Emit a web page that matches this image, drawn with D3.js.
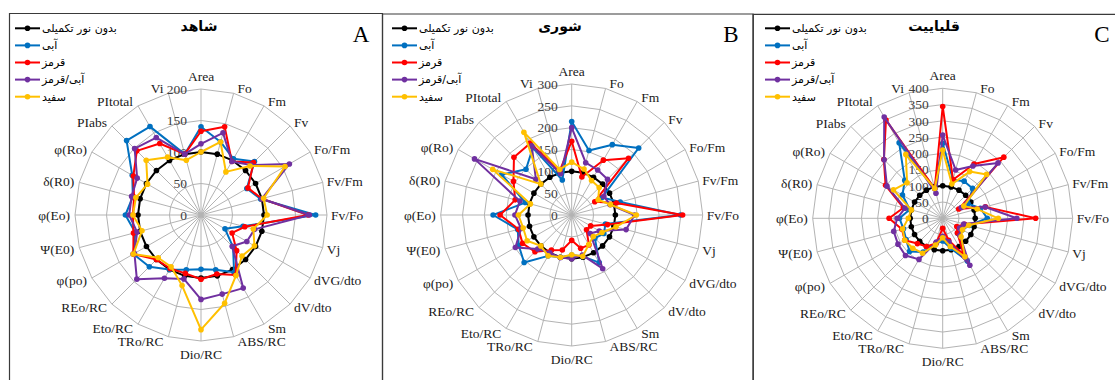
<!DOCTYPE html>
<html>
<head>
<meta charset="utf-8">
<script src="https://cdn.jsdelivr.net/npm/d3@7"></script>
<style>
  html, body { margin: 0; padding: 0; background: #fff; }
  svg { display: block; }
  .serif { font-family: "Liberation Serif", "Times New Roman", "DejaVu Serif", serif; }
  .fa { font-family: "DejaVu Sans", "Noto Sans", sans-serif; }
</style>
</head>
<body>
<div id="chart"></div>
<script>
// categories, clockwise from the top
const categories = ["Area", "Fo", "Fm", "Fv", "Fo/Fm", "Fv/Fm", "Fv/Fo", "Vj", "dVG/dto", "dV/dto", "Sm", "ABS/RC",
  "Dio/RC", "TRo/RC", "Eto/RC", "REo/RC", "φ(po)", "Ψ(E0)", "φ(Eo)", "δ(R0)", "φ(Ro)", "PIabs", "PItotal", "Vi"];

const seriesNames = ["بدون نور تکمیلی", "آبی", "قرمز", "آبی/قرمز", "سفید"];
const seriesColors = ["#000000", "#0070C0", "#FF0000", "#7030A0", "#FFC000"];

const panelTitles = ["شاهد", "شوری", "قلیاییت"];
const panelLetters = ["A", "B", "C"];
const panelMax = [200, 300, 400];
const tickStep = 50;

// A - شاهد
const controlA = [100, 100, 100, 100, 100, 100, 100, 100, 100, 100, 100, 100, 100, 100, 100, 100, 100, 100, 100, 100, 100, 100, 100, 100];
const blueA    = [140, 120, 103, 120, 84, 98, 182, 69, 44, 72, 105, 90, 86, 90, 100, 116, 124, 108, 120, 112, 126, 167, 162, 100];
const redA     = [133, 145, 98, 118, 86, 100, 170, 72, 57, 80, 110, 97, 102, 96, 98, 100, 124, 111, 108, 110, 124, 144, 131, 100];
const purpleA  = [113, 135, 98, 112, 162, 100, 172, 88, 84, 70, 134, 130, 134, 105, 116, 144, 122, 105, 114, 114, 117, 149, 142, 100];
const yellowA  = [100, 120, 79, 110, 154, 103, 105, 86, 98, 92, 111, 145, 182, 116, 95, 96, 124, 97, 108, 107, 98, 123, 106, 90];

// B - شوری
const controlB = [100, 100, 100, 100, 100, 100, 100, 100, 100, 100, 100, 100, 100, 100, 100, 100, 100, 100, 100, 100, 100, 100, 100, 100];
const blueB    = [214, 153, 186, 217, 80, 115, 249, 80, 85, 75, 126, 98, 92, 100, 108, 154, 140, 128, 180, 110, 185, 148, 178, 83];
const redB     = [169, 90, 145, 184, 61, 106, 254, 85, 50, 48, 79, 79, 58, 83, 93, 119, 130, 126, 164, 134, 154, 187, 190, 105];
const purpleB  = [200, 124, 119, 116, 85, 91, 144, 129, 73, 60, 142, 95, 100, 101, 100, 110, 149, 120, 130, 123, 257, 116, 183, 98];
const yellowB  = [121, 109, 91, 89, 70, 92, 148, 105, 80, 70, 78, 98, 91, 100, 108, 100, 118, 115, 122, 98, 209, 100, 219, 108];

// C - قلیاییت
const controlC = [100, 100, 100, 100, 100, 100, 100, 100, 100, 100, 100, 100, 100, 100, 100, 100, 100, 100, 100, 100, 100, 100, 100, 100];
const blueC    = [231, 123, 132, 130, 90, 120, 137, 85, 70, 65, 152, 95, 70, 80, 120, 144, 130, 125, 133, 105, 143, 165, 268, 95];
const redC     = [344, 123, 193, 266, 57, 136, 286, 70, 50, 64, 130, 70, 31, 80, 100, 110, 135, 130, 165, 125, 203, 256, 349, 95];
const purpleC  = [256, 154, 186, 241, 66, 135, 228, 67, 60, 75, 167, 75, 55, 76, 146, 162, 159, 156, 140, 120, 198, 255, 360, 80];
const yellowC  = [210, 109, 166, 191, 75, 110, 171, 83, 70, 80, 137, 90, 60, 85, 124, 130, 135, 128, 106, 100, 175, 155, 227, 95];

const panelSeries = [
  [controlA, blueA, redA, purpleA, yellowA],
  [controlB, blueB, redB, purpleB, yellowB],
  [controlC, blueC, redC, purpleC, yellowC]
];

const width = 1115, height = 380;

// frame and plot geometry of each panel
const panels = [
  { x0: 9.5, x1: 382.5, top: 13.5, cx: 201, cy: 215, r: 126, legendX: 15, titleX: 199, letterX: 361 },
  { x0: 382.5, x1: 753, top: 14, cx: 571.7, cy: 215, r: 131, legendX: 392, titleX: 560, letterX: 731 },
  { x0: 753.3, x1: 1120, top: 14.3, cx: 942.7, cy: 218.3, r: 130, legendX: 765, titleX: 934, letterX: 1102 }
];

const svg = d3.select("#chart").append("svg")
  .attr("width", width)
  .attr("height", height)
  .attr("viewBox", `0 0 ${width} ${height}`);

const angle = d3.scaleLinear()
  .domain([0, categories.length])
  .range([0, 2 * Math.PI]);

panels.forEach((p, pi) => {
  const g = svg.append("g");

  // frame (no bottom edge visible)
  g.append("path")
    .attr("d", `M${p.x0},${height + 2}V${p.top}H${p.x1}V${height + 2}`)
    .attr("fill", "none")
    .attr("stroke", "#3a3a3a")
    .attr("stroke-width", 1.2);

  const r = d3.scaleLinear().domain([0, panelMax[pi]]).range([0, p.r]);
  const ticks = d3.range(0, panelMax[pi] + 1, tickStep);

  const plot = g.append("g").attr("transform", `translate(${p.cx},${p.cy})`);

  // spokes
  plot.selectAll(".spoke")
    .data(categories)
    .enter()
    .append("line")
    .attr("x1", 0).attr("y1", 0)
    .attr("x2", (d, i) => r(panelMax[pi]) * Math.sin(angle(i)))
    .attr("y2", (d, i) => -r(panelMax[pi]) * Math.cos(angle(i)))
    .attr("stroke", "#b3b3b3")
    .attr("stroke-width", 1);

  // rings
  const ring = d3.lineRadial()
    .angle((d, i) => angle(i))
    .radius(d => r(d))
    .curve(d3.curveLinearClosed);

  plot.selectAll(".ring")
    .data(ticks.slice(1))
    .enter()
    .append("path")
    .attr("d", v => ring(categories.map(() => v)))
    .attr("fill", "none")
    .attr("stroke", "#b3b3b3")
    .attr("stroke-width", 1);

  // tick labels
  plot.selectAll(".tick")
    .data(ticks)
    .enter()
    .append("text")
    .attr("class", "serif")
    .attr("x", -14)
    .attr("y", v => -r(v))
    .attr("dy", "0.35em")
    .attr("text-anchor", "end")
    .attr("font-size", 13.5)
    .attr("fill", "#404040")
    .text(v => v);

  // category labels
  plot.selectAll(".cat")
    .data(categories)
    .enter()
    .append("text")
    .attr("class", "serif")
    .each(function (d, i) {
      const s = Math.sin(angle(i)), c = Math.cos(angle(i));
      const R = r(panelMax[pi]);
      let x = R * s, y = -R * c, anchor = "middle";
      if (Math.abs(s) < 0.01) {
        y -= 13 * c;
      } else {
        x += (s > 0 ? 4 : -5);
        y -= 5 * c;
        anchor = s > 0 ? "start" : "end";
      }
      d3.select(this)
        .attr("x", x).attr("y", y)
        .attr("dy", "0.35em")
        .attr("text-anchor", anchor);
    })
    .attr("font-size", 13.5)
    .attr("fill", "#1a1a1a")
    .text(d => d);

  // series
  const line = d3.lineRadial()
    .angle((d, i) => angle(i))
    .radius(d => r(d))
    .curve(d3.curveLinearClosed);

  panelSeries[pi].forEach((values, si) => {
    const sg = plot.append("g");
    sg.append("path")
      .attr("d", line(values))
      .attr("fill", "none")
      .attr("stroke", seriesColors[si])
      .attr("stroke-width", 2)
      .attr("stroke-linejoin", "round");
    sg.selectAll("circle")
      .data(values)
      .enter()
      .append("circle")
      .attr("cx", (d, i) => r(d) * Math.sin(angle(i)))
      .attr("cy", (d, i) => -r(d) * Math.cos(angle(i)))
      .attr("r", 2.8)
      .attr("fill", seriesColors[si]);
  });

  // legend
  const legend = g.append("g");
  seriesNames.forEach((name, si) => {
    const y = 28.3 + si * 17.1;
    legend.append("line")
      .attr("x1", p.legendX).attr("x2", p.legendX + 25)
      .attr("y1", y).attr("y2", y)
      .attr("stroke", seriesColors[si])
      .attr("stroke-width", 2);
    legend.append("circle")
      .attr("cx", p.legendX + 12.5).attr("cy", y)
      .attr("r", 2.8)
      .attr("fill", seriesColors[si]);
    legend.append("text")
      .attr("class", "fa")
      .attr("x", p.legendX + 27)
      .attr("y", y)
      .attr("dy", "0.35em")
      .attr("font-size", 11)
      .attr("fill", "#000")
      .text(name);
  });

  // title
  g.append("text")
    .attr("class", "fa")
    .attr("x", p.titleX)
    .attr("y", 31)
    .attr("text-anchor", "middle")
    .attr("font-weight", "bold")
    .attr("font-size", 14)
    .attr("fill", "#000")
    .text(panelTitles[pi]);

  // panel letter
  g.append("text")
    .attr("class", "serif")
    .attr("x", p.letterX)
    .attr("y", 42)
    .attr("text-anchor", "middle")
    .attr("font-size", 23)
    .attr("fill", "#000")
    .text(panelLetters[pi]);
});
</script>
</body>
</html>
